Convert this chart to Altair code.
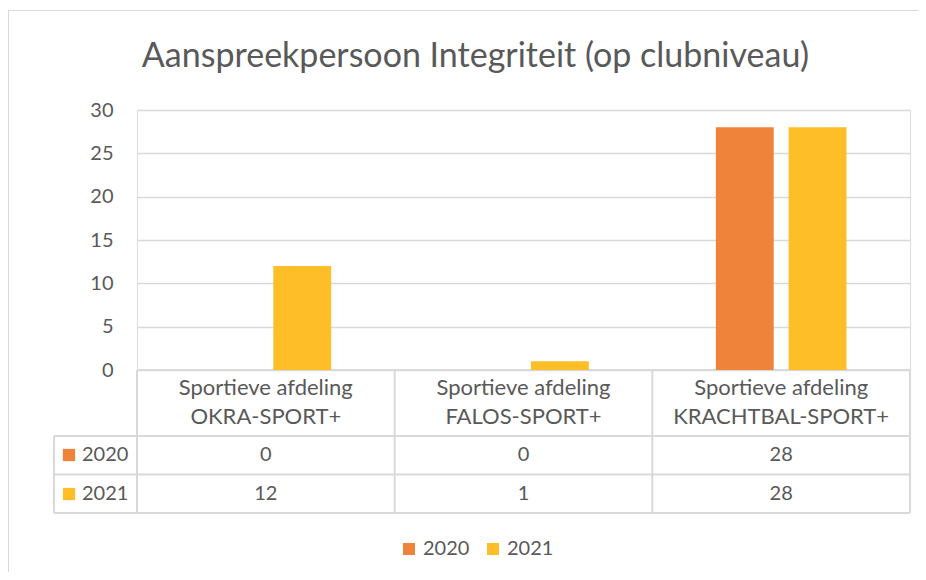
import altair as alt
import pandas as pd

# ---------------- data ----------------
categories = [
    "Sportieve afdeling\nOKRA-SPORT+",
    "Sportieve afdeling\nFALOS-SPORT+",
    "Sportieve afdeling\nKRACHTBAL-SPORT+",
]
series = ["2020", "2021"]
values_2020 = [0, 0, 28]
values_2021 = [12, 1, 28]
y_ticks = [0, 5, 10, 15, 20, 25, 30]
title_text = "Aanspreekpersoon Integriteit (op clubniveau)"

colors = ["#F0833A", "#FDBE27"]

rows = []
for s, vals in zip(series, [values_2020, values_2021]):
    for c, v in zip(categories, vals):
        rows.append({"category": c, "series": s, "value": v})
df = pd.DataFrame(rows)
cat_df = pd.DataFrame({"category": categories})
ser_df = pd.DataFrame({"series": series})
one = pd.DataFrame({"a": [0]})
title_df = pd.DataFrame({"t": [title_text]})

# ---------------- layout ----------------
W, H = 773, 260
FONT = "Lato"
TXT = "#595959"
LINE = "#d9d9d9"
FS = 20
STEP = W / 3
ROW_TOP = [H, 326, 364.5, 403]
LEFT_COL = -83

x_enc = alt.X("category:N", sort=categories,
              scale=alt.Scale(paddingInner=0.493, paddingOuter=0.2465),
              axis=None)
color_enc = alt.Color("series:N",
                      scale=alt.Scale(domain=series, range=colors),
                      legend=alt.Legend(title=None, orient="none",
                                        direction="horizontal",
                                        legendX=262, legendY=429,
                                        symbolType="square", symbolSize=144,
                                        symbolStrokeWidth=0, symbolOpacity=1,
                                        labelFont=FONT, labelFontSize=FS,
                                        labelColor=TXT, labelOffset=4,
                                        columnPadding=13, padding=0))

bars = alt.Chart(df).mark_bar().encode(
    x=x_enc,
    xOffset=alt.XOffset("series:N", sort=series,
                        scale=alt.Scale(paddingInner=0.205, paddingOuter=0)),
    y=alt.Y("value:Q", scale=alt.Scale(domain=[0, 30], nice=False),
            axis=alt.Axis(title=None, values=y_ticks, domain=False, ticks=False,
                          labelFont=FONT, labelFontSize=FS, labelColor=TXT,
                          labelPadding=24, gridColor=LINE, gridWidth=1.5)),
    color=color_enc,
)

row_y = alt.Y("series:N", sort=series,
              scale=alt.Scale(domain=series, range=[345, 384], padding=0),
              axis=None)

cell_text = alt.Chart(df).mark_text(font=FONT, fontSize=FS, color=TXT,
                                    baseline="middle").encode(
    x=x_enc, y=row_y, text="value:Q")

header_text = alt.Chart(cat_df).mark_text(font=FONT, fontSize=22, color=TXT,
                                          baseline="middle", lineBreak="\n",
                                          lineHeight=29).encode(
    x=x_enc, y=alt.value(278), text="category:N")

row_square = alt.Chart(ser_df).mark_square(size=150, opacity=1).encode(
    x=alt.value(-68), y=row_y, color=color_enc)

row_label = alt.Chart(ser_df).mark_text(font=FONT, fontSize=FS, color=TXT,
                                        align="left", baseline="middle").encode(
    x=alt.value(-55), y=row_y, text="series:N")

title = alt.Chart(title_df).mark_text(font=FONT, fontSize=34, color=TXT,
                                      align="center",
                                      baseline="alphabetic").encode(
    x=alt.value(338.5), y=alt.value(-43), text="t:N")


def hline(y, x1, x2, color=LINE, w=2):
    return alt.Chart(one).mark_rule(color=color, strokeWidth=w).encode(
        x=alt.value(x1), x2=alt.value(x2), y=alt.value(y))


def vline(x, y1, y2, color=LINE, w=2):
    return alt.Chart(one).mark_rule(color=color, strokeWidth=w).encode(
        x=alt.value(x), y=alt.value(y1), y2=alt.value(y2))


lines = [hline(ROW_TOP[0], 0, W)]
for y in ROW_TOP[1:]:
    lines.append(hline(y, LEFT_COL, W))
for i in range(4):
    lines.append(vline(i * STEP, ROW_TOP[0], ROW_TOP[3]))
lines.append(vline(LEFT_COL, ROW_TOP[1], ROW_TOP[3]))
# outer chart frame (left / top edges)
lines.append(vline(-128.5, -99, 500, w=1))
lines.append(hline(-99.5, -129, 800, w=1))

chart = alt.layer(
    *lines, bars, cell_text, header_text, row_square, row_label, title
).resolve_scale(y="independent").properties(
    width=W, height=H,
    autosize=alt.AutoSizeParams(type="none"),
    padding={"left": 129, "top": 102, "right": 8, "bottom": 202},
).configure_view(stroke=None).configure(background="white")

chart.save("out.html", embed_options={"renderer": "svg", "actions": False})
